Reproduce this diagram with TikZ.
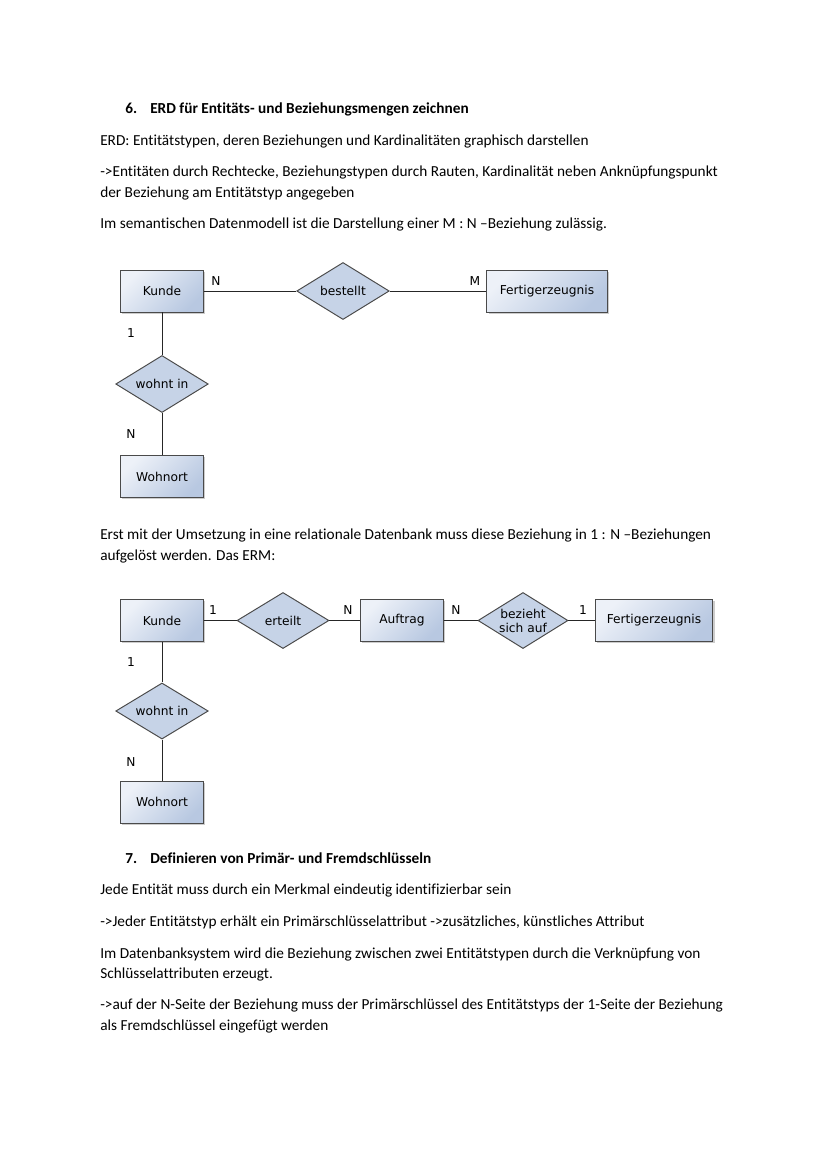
\documentclass[tikz,border=0pt]{standalone}
\usepackage{fontspec}
\setmainfont{Carlito}[Ligatures={TeX,NoCommon}]
\newfontfamily\erdfont{DejaVu Sans}
\usetikzlibrary{shapes.geometric,shadows}

\begin{document}
\begin{tikzpicture}[x=0.71894pt,y=-0.71894pt,
        txt/.style={anchor=base west,inner sep=0pt,font=\fontsize{11}{13}\selectfont},
        head/.style={txt,font=\fontsize{11}{13}\selectfont\bfseries},
        entity/.style={draw=erdline,line width=0.7pt,top color=boxlight,bottom color=boxdark,shading angle=45,
            minimum width=59pt,minimum height=30.2pt,inner sep=0pt,
            font=\erdfont\fontsize{8.8}{10}\selectfont,
            drop shadow={shadow xshift=1.1pt,shadow yshift=-1.1pt,fill=black,opacity=0.2}},
        rel/.style={shape=diamond,aspect=1.6,draw=erdline,line width=0.7pt,fill=relfill,
            minimum width=66.5pt,minimum height=41pt,inner sep=0pt,align=center,
            font=\erdfont\fontsize{8.8}{10}\selectfont},
        card/.style={inner sep=0pt,font=\erdfont\fontsize{8.8}{10}\selectfont},
        link/.style={line width=0.7pt,draw=black!85}]
        %colores
        \definecolor{boxlight}{HTML}{EDF1F8}
        \definecolor{boxdark}{HTML}{B8C8E1}
        \definecolor{relfill}{HTML}{C6D3E7}
        \definecolor{erdline}{HTML}{4A4A4A}
        \fill[white] (0,0) rectangle (828,1171);
        \useasboundingbox (0,0) rectangle (828,1171);

        % Text oben
        \node[head] (h6num) at (125,113) {6.};
        \node[head] (h6) at (150,113) {ERD für Entitäts- und Beziehungsmengen zeichnen};
        \node[txt] (t1) at (100,145.5) {ERD: Entitätstypen, deren Beziehungen und Kardinalitäten graphisch darstellen};
        \node[txt] (t2) at (100,176.5) {->Entitäten durch Rechtecke, Beziehungstypen durch Rauten, Kardinalität neben Anknüpfungspunkt};
        \node[txt] (t3) at (100,197.5) {der Beziehung am Entitätstyp angegeben};
        \node[txt] (t4) at (100,228.5) {Im semantischen Datenmodell ist die Darstellung einer M : N –Beziehung zulässig.};

        % ERD 1
        \node[entity] (kunde) at (162,291) {Kunde};
        \node[rel] (bestellt) at (343,291) {bestellt};
        \node[entity,minimum width=86.3pt] (fertig) at (547,291) {Fertigerzeugnis};
        \node[rel] (wohnt) at (162,384) {wohnt in};
        \node[entity] (wohnort) at (162,476.5) {Wohnort};
        \draw[link] (kunde) -- (bestellt);
        \draw[link] (bestellt) -- (fertig);
        \draw[link] (kunde) -- (wohnt);
        \draw[link] (wohnt) -- (wohnort);

        \node[txt] (t5) at (100,539.5) {Erst mit der Umsetzung in eine relationale Datenbank muss diese Beziehung in 1 : N –Beziehungen};
        \node[txt] (t6) at (100,560.5) {aufgelöst werden. Das ERM:};

        % ERM 2
        \node[entity] (kundeb) at (162,620.5) {Kunde};
        \node[rel,minimum width=66.1pt,minimum height=40.3pt] (erteilt) at (283,620.5) {erteilt};
        \node[entity] (auftrag) at (402,620.5) {Auftrag};
        \node[rel,minimum width=64.7pt,minimum height=40.3pt,inner sep=-1.5pt] (bezieht) at (523,620.5) {bezieht\\sich auf};
        \node[entity,minimum width=84.8pt] (fertigb) at (654,620.5) {Fertigerzeugnis};
        \node[rel,minimum height=40.3pt] (wohntb) at (162,711) {wohnt in};
        \node[entity] (wohnortb) at (162,802) {Wohnort};
        \draw[link] (kundeb) -- (erteilt);
        \draw[link] (erteilt) -- (auftrag);
        \draw[link] (auftrag) -- (bezieht);
        \draw[link] (bezieht) -- (fertigb);
        \draw[link] (kundeb) -- (wohntb);
        \draw[link] (wohntb) -- (wohnortb);

        % Kardinalitaeten
        \foreach \nm/\x/\y/\t in {ca/216/281/N, cb/475/281/M, cc/131/333/1, cd/131/434/N,
                ce/213/610/1, cf/348/610/N, cg/456/610/N, ch/583/610/1, ci/131/662/1, cj/131/762/N}
            \node[card] (\nm) at (\x,\y) {\t};

        % Text unten
        \node[head] (h7num) at (125,863.5) {7.};
        \node[head] (h7) at (150,863.5) {Definieren von Primär- und Fremdschlüsseln};
        \node[txt] (t7) at (100,894.5) {Jede Entität muss durch ein Merkmal eindeutig identifizierbar sein};
        \node[txt] (t8) at (100,926.5) {->Jeder Entitätstyp erhält ein Primärschlüsselattribut ->zusätzliches, künstliches Attribut};
        \node[txt] (t9) at (100,958) {Im Datenbanksystem wird die Beziehung zwischen zwei Entitätstypen durch die Verknüpfung von};
        \node[txt] (t10) at (100,978.5) {Schlüsselattributen erzeugt.};
        \node[txt] (t11) at (100,1009.5) {->auf der N-Seite der Beziehung muss der Primärschlüssel des Entitätstyps der 1-Seite der Beziehung};
        \node[txt] (t12) at (100,1030.5) {als Fremdschlüssel eingefügt werden};
    \end{tikzpicture}
\end{document}
